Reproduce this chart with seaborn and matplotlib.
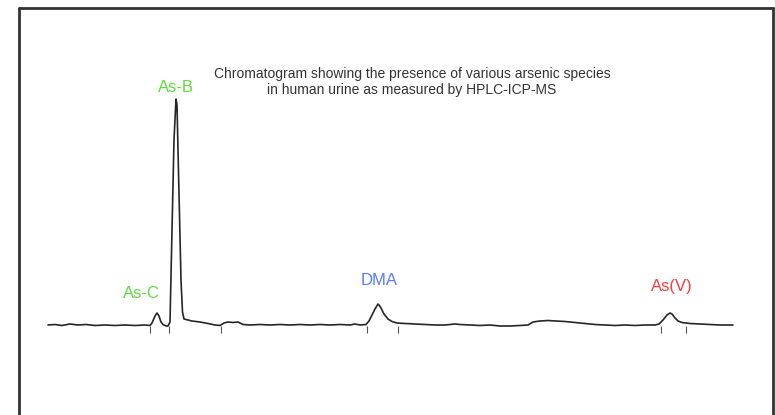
import matplotlib
matplotlib.use("Agg")
import matplotlib.pyplot as plt
from matplotlib.lines import Line2D
import seaborn as sns
import pandas as pd

# retention time (min) and detector signal (counts)
TIME = [0.00, 0.14, 0.28, 0.44, 0.60, 0.76, 0.94, 1.14, 1.34, 1.54, 1.74,
        1.94, 2.04, 2.08, 2.14, 2.18, 2.22, 2.26, 2.30, 2.36, 2.40, 2.44,
        2.48, 2.52, 2.56, 2.58, 2.60, 2.63, 2.66, 2.69, 2.72, 2.80, 2.88,
        3.04, 3.20, 3.34, 3.44, 3.52, 3.60, 3.70, 3.80, 3.90, 4.04, 4.24,
        4.44, 4.64, 4.84, 5.04, 5.24, 5.44, 5.64, 5.84, 6.04, 6.14, 6.24,
        6.36, 6.42, 6.48, 6.54, 6.60, 6.62, 6.66, 6.72, 6.80, 6.88, 6.98,
        7.14, 7.34, 7.54, 7.74, 7.94, 8.14, 8.24, 8.44, 8.64, 8.84, 9.04,
        9.24, 9.44, 9.60, 9.70, 9.84, 10.00, 10.16, 10.34, 10.54, 10.74,
        10.94, 11.14, 11.34, 11.54, 11.74, 11.94, 12.14, 12.22, 12.30,
        12.38, 12.44, 12.48, 12.54, 12.60, 12.68, 12.84, 13.04, 13.24,
        13.44, 13.70]
SIGNAL = [0, 50, -50, 100, 0, 50, -50, 0, -50, 0, -50,
          0, -50, 200, 900, 1200, 900, 300, 50, -100, -100, 300,
          9500, 18500, 22600, 22000, 17500, 11000, 4500, 1300, 600, 500, 400,
          300, 150, 0, -50, 200, 300, 250, 300, 50, 0, 50,
          0, 50, 0, 50, 0, 50, 0, 50, 0, 100, 0,
          50, 400, 1000, 1600, 2100, 2000, 1700, 1100, 600, 350, 200,
          150, 100, 50, 0, 0, 100, 50, 0, -50, 0, -100,
          -100, -50, 0, 300, 400, 450, 400, 350, 250, 150,
          50, 0, -50, 0, -50, 0, 0, 100, 500,
          1000, 1200, 1100, 700, 400, 250, 150, 100, 50,
          0, 0]

# integration marks (peak start / end)
MARKS = [2.04, 2.42, 3.46, 6.38, 7.00, 12.26, 12.76]

PEAKS = ["As-C", "As-B", "DMA", "As(V)"]
PEAK_TIME = [2.18, 2.56, 6.62, 12.46]
PEAK_SIGNAL = [1200, 22600, 2100, 1200]
PEAK_COLOR = ["#5fdc3c", "#5fdc3c", "#5a7cff", "#ff3b3b"]
LABEL_OFFSET = [(-16, 20), (0, 12), (0, 24), (1, 27)]

TITLE = ("Chromatogram showing the presence of various arsenic species\n"
         "in human urine as measured by HPLC-ICP-MS")

sns.set_style("white")
plt.rcParams["font.family"] = ["Liberation Sans", "DejaVu Sans"]

fig = plt.figure(figsize=(7.75, 4.15), dpi=100)
ax = fig.add_axes([0, 0, 1, 1])

df = pd.DataFrame({"time": TIME, "signal": SIGNAL})
sns.lineplot(data=df, x="time", y="signal", estimator=None, sort=False,
             color="#262626", linewidth=1.2, ax=ax)

ax.vlines(MARKS, -100, -800, color="#555555", linewidth=0.8)

for name, t, s, c, off in zip(PEAKS, PEAK_TIME, PEAK_SIGNAL, PEAK_COLOR, LABEL_OFFSET):
    ax.annotate(name, xy=(t, s), xytext=off, textcoords="offset pixels",
                ha="center", va="center", color=c, fontsize=12)

ax.text(7.28, 24300, TITLE, ha="center", va="center", fontsize=10,
        color="#333333", linespacing=1.25)

ax.set_xlim(-0.96, 14.54)
ax.set_ylim(-9000, 32500)
ax.axis("off")

# frame around the figure (open at the bottom)
bx0, bx1, by = 19 / 775, 773 / 775, 1 - 8 / 415
for xs, ys in [([bx0, bx0], [-0.05, by]), ([bx0, bx1], [by, by]), ([bx1, bx1], [by, -0.05])]:
    fig.add_artist(Line2D(xs, ys, color="#333333", linewidth=2))

fig.savefig("out.png", dpi=100)
